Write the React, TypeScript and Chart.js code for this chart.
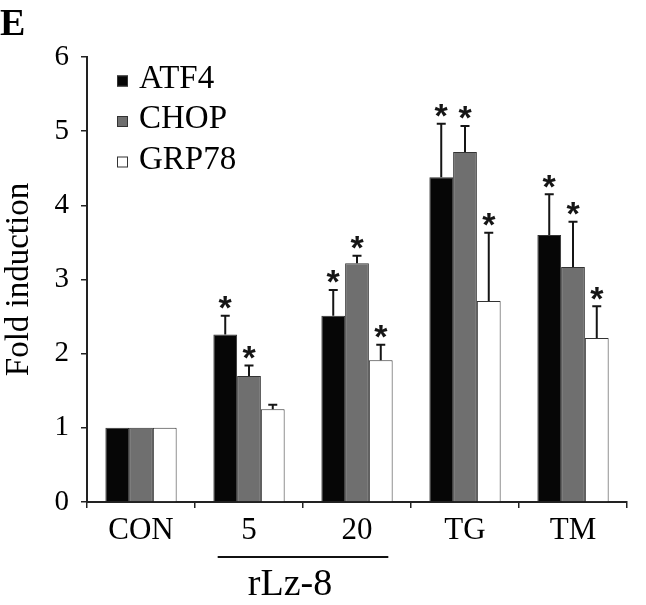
import React, { useEffect, useRef } from 'react';
import { Chart, registerables } from 'chart.js';

Chart.register(...registerables);

// ---- data ----
const categories = ['CON', '5', '20', 'TG', 'TM'];
const seriesNames = ['ATF4', 'CHOP', 'GRP78'];
const atf4 = [1, 2.26, 2.51, 4.38, 3.6];
const chop = [1, 1.7, 3.22, 4.72, 3.17];
const grp78 = [1, 1.25, 1.91, 2.71, 2.21];
const atf4Err = [0, 0.25, 0.35, 0.72, 0.55];
const chopErr = [0, 0.14, 0.1, 0.35, 0.61];
const grp78Err = [0, 0.06, 0.21, 0.92, 0.43];
const atf4Sig = [false, true, true, true, true];
const chopSig = [false, true, true, true, true];
const grp78Sig = [false, false, true, true, true];
const yTicks = [0, 1, 2, 3, 4, 5, 6];
const yTitle = 'Fold induction';
const groupLabel = 'rLz-8';
const groupCategories = ['5', '20'];
const panelLabel = 'E';

const seriesColors = ['#060606', '#6f6f6f', '#ffffff'];
const values = [atf4, chop, grp78];
const errors = [atf4Err, chopErr, grp78Err];
const sigs = [atf4Sig, chopSig, grp78Sig];

const SERIF = '"Liberation Serif", "Times New Roman", serif';

const annotatePlugin = {
  id: 'annotate',
  afterDatasetsDraw(chart: any) {
    const ctx = chart.ctx;
    const yScale = chart.scales.y;
    ctx.save();
    values.forEach((vals, di) => {
      const meta = chart.getDatasetMeta(di);
      meta.data.forEach((bar: any, i: number) => {
        const v = vals[i];
        const e = errors[di][i];
        const bx = bar.x;
        const top = yScale.getPixelForValue(v);
        const cap = yScale.getPixelForValue(v + e);
        if (e > 0) {
          ctx.strokeStyle = '#151515';
          ctx.lineWidth = 2;
          ctx.beginPath();
          ctx.moveTo(bx, top);
          ctx.lineTo(bx, cap);
          ctx.moveTo(bx - 4.5, cap);
          ctx.lineTo(bx + 4.5, cap);
          ctx.stroke();
        }
        if (sigs[di][i]) {
          ctx.font = 'bold 34px "Liberation Sans", Arial, sans-serif';
          ctx.fillStyle = '#151515';
          ctx.textAlign = 'center';
          ctx.textBaseline = 'alphabetic';
          const m = ctx.measureText('*');
          const asc = m.actualBoundingBoxAscent || 22;
          const desc = m.actualBoundingBoxDescent || -10;
          const center = cap - 13;
          const baseline = center + (asc - desc) / 2;
          ctx.fillText('*', bx, baseline);
        }
      });
    });
    ctx.restore();
  },
  afterDraw(chart: any) {
    const ctx = chart.ctx;
    const xScale = chart.scales.x;
    ctx.save();
    // panel label
    ctx.font = 'bold 38px ' + SERIF;
    ctx.fillStyle = '#000';
    ctx.textAlign = 'left';
    ctx.textBaseline = 'alphabetic';
    ctx.fillText(panelLabel, 0, 35);

    // legend
    const lx = 117;
    const ly0 = 81;
    const lstep = 40.5;
    seriesNames.forEach((name, i) => {
      const cy = ly0 + i * lstep;
      ctx.fillStyle = seriesColors[i];
      ctx.fillRect(lx, cy - 5.5, 11, 11);
      ctx.strokeStyle = '#333';
      ctx.lineWidth = 1;
      ctx.strokeRect(lx + 0.5, cy - 5, 10, 10);
      ctx.fillStyle = '#000';
      ctx.font = '33px ' + SERIF;
      ctx.textAlign = 'left';
      ctx.textBaseline = 'middle';
      ctx.fillText(name, 139, cy - 2);
    });

    // group bracket
    const i0 = categories.indexOf(groupCategories[0]);
    const i1 = categories.indexOf(groupCategories[1]);
    const p0 = xScale.getPixelForValue(i0);
    const p1 = xScale.getPixelForValue(i1);
    const mid = (p0 + p1) / 2;
    const half = (p1 - p0) * 0.79;
    const ly = chart.chartArea.bottom + 55;
    ctx.strokeStyle = '#111';
    ctx.lineWidth = 2;
    ctx.beginPath();
    ctx.moveTo(mid - half, ly);
    ctx.lineTo(mid + half, ly);
    ctx.stroke();
    ctx.font = '38px ' + SERIF;
    ctx.fillStyle = '#000';
    ctx.textAlign = 'center';
    ctx.textBaseline = 'alphabetic';
    ctx.fillText(groupLabel, mid - 13, ly + 38);
    ctx.restore();
  },
};

export default function App() {
  const canvasRef = useRef<HTMLCanvasElement | null>(null);

  useEffect(() => {
    const canvas = canvasRef.current;
    if (!canvas) return;
    const chart = new Chart(canvas, {
      type: 'bar',
      data: {
        labels: categories,
        datasets: seriesNames.map((name, i) => ({
          label: name,
          data: values[i],
          backgroundColor: seriesColors[i],
          borderColor: '#333333',
          borderWidth: 1,
          categoryPercentage: 0.66,
          barPercentage: 1,
        })),
      },
      options: {
        responsive: false,
        animation: false,
        devicePixelRatio: 1,
        layout: { padding: { top: 57, right: 19, left: 0, bottom: 0 } },
        plugins: {
          legend: { display: false },
          tooltip: { enabled: false },
          title: { display: false },
        },
        scales: {
          x: {
            grid: {
              display: true,
              drawOnChartArea: false,
              drawTicks: true,
              tickLength: 6,
              color: '#222',
              lineWidth: 1.5,
              offset: true,
            },
            border: { display: true, color: '#222', width: 2 },
            ticks: {
              color: '#000',
              padding: 4,
              font: { family: SERIF, size: 31 },
            },
            afterFit: (scale: any) => {
              scale.height = 103;
            },
          },
          y: {
            min: 0,
            max: 6,
            afterBuildTicks: (scale: any) => {
              scale.ticks = yTicks.map((v) => ({ value: v }));
            },
            grid: {
              display: true,
              drawOnChartArea: false,
              drawTicks: true,
              tickLength: 6,
              color: '#222',
              lineWidth: 1.5,
            },
            border: { display: true, color: '#222', width: 2 },
            ticks: {
              color: '#000',
              padding: 12,
              font: { family: SERIF, size: 29 },
            },
            title: {
              display: true,
              text: yTitle,
              color: '#000',
              font: { family: SERIF, size: 33 },
              padding: { top: 0, bottom: 0 },
            },
            afterFit: (scale: any) => {
              scale.width = 87;
            },
          },
        },
      },
      plugins: [annotatePlugin],
    });
    return () => {
      chart.destroy();
    };
  }, []);

  return (
    <div
      style={{
        position: 'fixed',
        left: 0,
        top: 0,
        width: 646,
        height: 605,
        background: '#fff',
      }}
    >
      <canvas ref={canvasRef} width={646} height={605} style={{ display: 'block' }} />
    </div>
  );
}
